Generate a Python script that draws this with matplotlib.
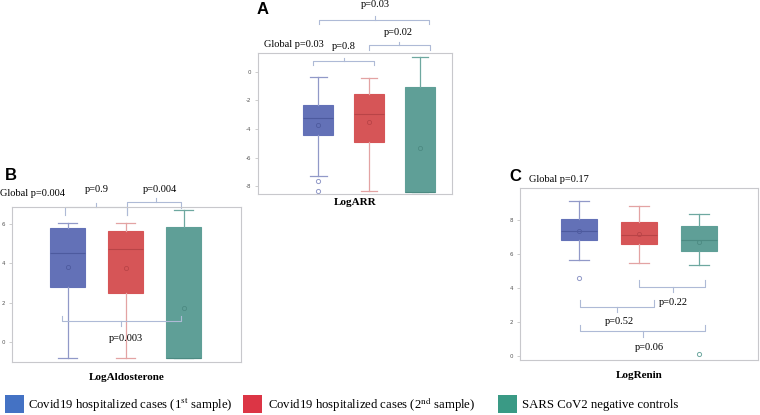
import matplotlib.pyplot as plt
from matplotlib.patches import Rectangle

plt.rcParams['mathtext.fontset'] = 'stix'

# --- data (whislo, q1, med, q3, whishi, mean, outliers) ---
groups = ["Covid19 hospitalized cases (1$^{\\rm st}$ sample)",
          "Covid19 hospitalized cases (2$^{\\rm nd}$ sample)",
          "SARS CoV2 negative controls"]

arr_low = [-7.3, -8.37, -8.39]
arr_q1 = [-4.4, -4.94, -8.39]
arr_med = [-3.2, -2.98, -8.39]
arr_q3 = [-2.3, -1.58, -1.03]
arr_high = [-0.35, -0.42, 1.03]
arr_mean = [-3.73, -3.54, -5.31]
arr_out = [[-7.65, -8.35], [], []]

ald_low = [-0.79, -0.79, -0.8]
ald_q1 = [2.81, 2.51, -0.8]
ald_med = [4.54, 4.71, -0.8]
ald_q3 = [5.78, 5.63, 5.85]
ald_high = [6.05, 6.03, 6.67]
ald_mean = [3.82, 3.77, 1.76]
ald_out = [[], [], []]

ren_low = [5.65, 5.47, 5.38]
ren_q1 = [6.82, 6.62, 6.17]
ren_med = [7.39, 7.11, 6.84]
ren_q3 = [8.08, 7.9, 7.65]
ren_high = [9.17, 8.87, 8.4]
ren_mean = [7.39, 7.21, 6.74]
ren_out = [[4.58], [], [0.1]]

fill_cols = ['#6371b7', '#d65557', '#5f9f97']
whisk_cols = ['#9199c8', '#e3a3a3', '#6ea8a0']
med_cols = ['#4d5a9e', '#b94447', '#4c8a82']
legend_cols = ['#4472c4', '#dc3545', '#3a9a85']
br_col = '#aebad6'

fig = plt.figure(figsize=(7.6, 4.15), dpi=100)


def make_stats(low, q1, med, q3, high, mean, out):
    return [dict(whislo=low[i], q1=q1[i], med=med[i], q3=q3[i], whishi=high[i],
                 mean=mean[i], fliers=out[i]) for i in range(3)]


def draw_panel(rect, stats, xlim, ylim, ticks, xlabel, lpad, width=0.6):
    ax = fig.add_axes(rect)
    for i, st in enumerate(stats):
        ax.bxp([st], positions=[i + 1], widths=width, patch_artist=True,
               showmeans=True, showcaps=True, capwidths=width * 0.55,
               boxprops=dict(facecolor=fill_cols[i], edgecolor=fill_cols[i], linewidth=0.8),
               whiskerprops=dict(color=whisk_cols[i], linewidth=0.9),
               capprops=dict(color=whisk_cols[i], linewidth=0.9),
               medianprops=dict(color=med_cols[i], linewidth=0.8),
               meanprops=dict(marker='o', markerfacecolor='none',
                              markeredgecolor=med_cols[i], markersize=3, markeredgewidth=0.6),
               flierprops=dict(marker='o', markerfacecolor='none',
                               markeredgecolor=whisk_cols[i], markersize=3, markeredgewidth=0.7))
    ax.set_xlim(*xlim)
    ax.set_ylim(*ylim)
    ax.set_xticks([])
    ax.set_yticks(ticks)
    ax.set_yticklabels([str(t) for t in ticks])
    ax.tick_params(axis='y', labelsize=4, colors='#555555', length=2, width=0.5,
                   pad=3, color='#bbbbbb')
    for s in ax.spines.values():
        s.set_color('#c8c8cc')
        s.set_linewidth(0.8)
    ax.set_xlabel(xlabel, fontsize=8, family='Liberation Serif', weight='bold', labelpad=lpad)
    return ax


def bracket(ax, x1, x2, y, yend, xt, ytick):
    kw = dict(color=br_col, linewidth=0.8, clip_on=False)
    ax.plot([x1, x1, x2, x2], [yend, y, y, yend], **kw)
    ax.plot([xt, xt], [y, ytick], **kw)


def ptext(ax, x, y, s):
    ax.text(x, y, s, ha='center', va='center', fontsize=7.5,
            family='Liberation Serif', clip_on=False)


# Panel A
axA = draw_panel([0.3395, 0.5325, 0.2553, 0.3398],
                 make_stats(arr_low, arr_q1, arr_med, arr_q3, arr_high, arr_mean, arr_out),
                 (-0.18, 3.63), (-8.56, 1.33), [0, -2, -4, -6, -8], 'LogARR', 3)
bracket(axA, 0.9, 2.1, 0.75, 0.47, 1.5, 1.0)
bracket(axA, 1.99, 3.2, 1.87, 1.57, 2.59, 2.1)
bracket(axA, 1.02, 3.18, 3.62, 3.34, 2.12, 3.92)
ptext(axA, 1.5, 1.8, 'p=0.8')
ptext(axA, 2.57, 2.76, 'p=0.02')
ptext(axA, 2.12, 4.73, 'p=0.03')
ptext(axA, 0.52, 1.94, 'Global p=0.03')

# Panel B
axB = draw_panel([0.0158, 0.1277, 0.3013, 0.3735],
                 make_stats(ald_low, ald_q1, ald_med, ald_q3, ald_high, ald_mean, ald_out),
                 (0.04, 3.99), (-0.99, 6.84), [0, 2, 4, 6], 'LogAldosterone', 8)
bracket(axB, 0.95, 2.02, 6.84, 6.45, 1.49, 7.05)
axB.plot([2.03, 2.03, 2.96, 2.96], [6.45, 7.09, 7.09, 6.79], color=br_col, lw=0.8, clip_on=False)
axB.plot([2.52, 2.52], [7.09, 7.31], color=br_col, lw=0.8, clip_on=False)
bracket(axB, 0.9, 2.95, 1.09, 1.31, 1.92, 0.85)
ptext(axB, 1.51, 7.71, 'p=0.9')
ptext(axB, 2.59, 7.71, 'p=0.004')
ptext(axB, 0.40, 7.51, 'Global p=0.004')
ptext(axB, 2.0, 0.22, 'p=0.003')

# Panel C
axC = draw_panel([0.6842, 0.1325, 0.3132, 0.4145],
                 make_stats(ren_low, ren_q1, ren_med, ren_q3, ren_high, ren_mean, ren_out),
                 (0.02, 3.98), (-0.26, 9.92), [0, 2, 4, 6, 8], 'LogRenin', 8)
bracket(axC, 2.0, 3.1, 4.09, 4.45, 2.56, 3.75)
bracket(axC, 1.02, 2.25, 2.9, 3.3, 1.64, 2.61)
bracket(axC, 1.02, 3.1, 1.48, 1.82, 2.06, 1.13)
ptext(axC, 2.57, 3.14, 'p=0.22')
ptext(axC, 1.67, 2.02, 'p=0.52')
ptext(axC, 2.18, 0.47, 'p=0.06')
ptext(axC, 0.67, 10.4, 'Global p=0.17')

# panel letters
for lab, x, y in [('A', 263, 9), ('B', 11, 175), ('C', 515, 176)]:
    fig.text(x / 760, 1 - y / 415, lab, ha='center', va='center', fontsize=12,
             weight='bold', family='Liberation Sans')

# legend row
sq_x = [5, 243, 498]
txt_x = [28, 268, 522]
for i in range(3):
    fig.add_artist(Rectangle((sq_x[i] / 760, 1 - 413 / 415), 19 / 760, 18 / 415,
                             transform=fig.transFigure, facecolor=legend_cols[i],
                             edgecolor='none'))
    fig.text(txt_x[i] / 760, 1 - 405 / 415, groups[i], ha='left', va='center',
             fontsize=9.2, family='Liberation Serif')

plt.savefig('out.png', dpi=100)
